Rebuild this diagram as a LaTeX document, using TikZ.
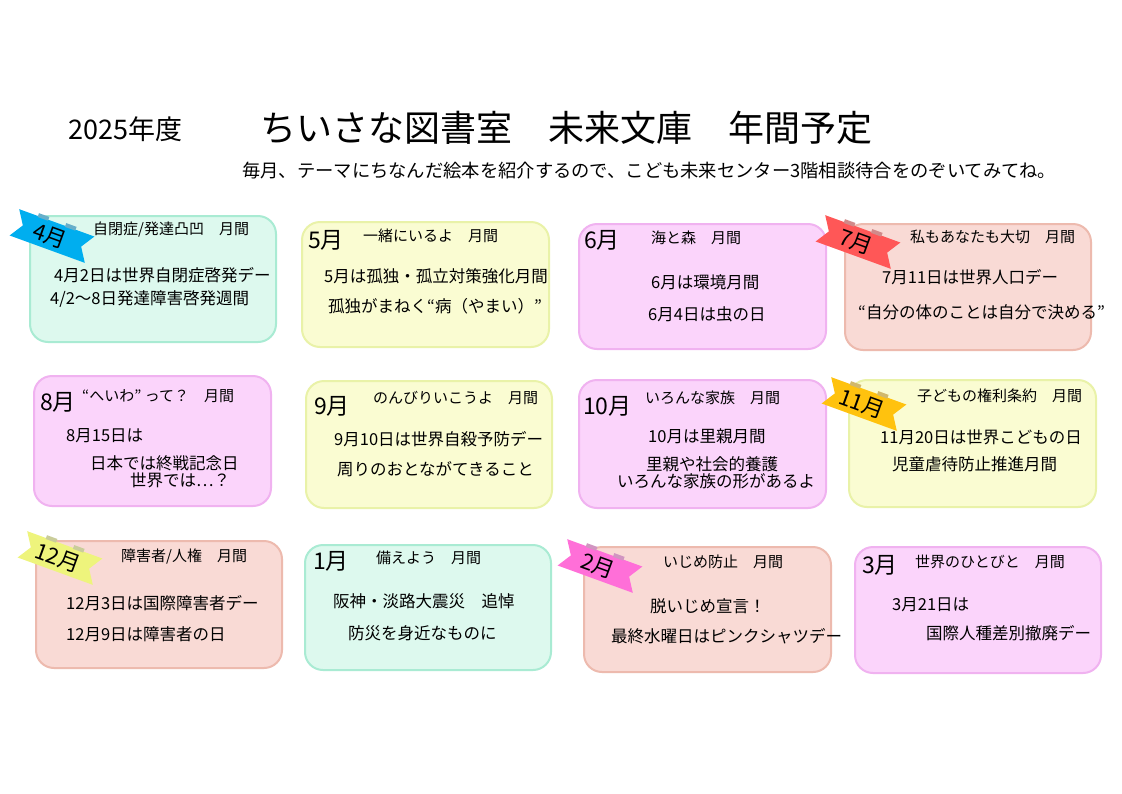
\documentclass[tikz,border=0pt]{standalone}
\usepackage{fontspec}
\setmainfont{Noto Sans CJK JP}
\begin{document}
\begin{tikzpicture}[x=1pt,y=-1pt,
 card/.style={rounded corners=18pt,line width=2pt},
 mint/.style={card,fill=mintf,draw=mintd},
 yel/.style={card,fill=yelf,draw=yeld},
 pnk/.style={card,fill=pnkf,draw=pnkd},
 sal/.style={card,fill=salf,draw=sald},
 tt/.style={anchor=west,font=\fontsize{15}{17}\selectfont,inner sep=0},
 bt/.style={anchor=west,font=\fontsize{16.5}{18}\selectfont,inner sep=0},
 mo/.style={anchor=west,font=\fontsize{23}{25}\selectfont,inner sep=0}]
\definecolor{mintf}{HTML}{DDF9EE}\definecolor{mintd}{HTML}{A9EBD3}
\definecolor{yelf}{HTML}{FAFCD2}\definecolor{yeld}{HTML}{E9F2A8}
\definecolor{pnkf}{HTML}{FBD4FB}\definecolor{pnkd}{HTML}{F0B2F0}
\definecolor{salf}{HTML}{F9DAD5}\definecolor{sald}{HTML}{EDBAAE}
\definecolor{rb1}{HTML}{00AEEF}\definecolor{rb2}{HTML}{FF5757}
\definecolor{rb3}{HTML}{FFC20E}\definecolor{rb4}{HTML}{EEF47C}
\definecolor{rb5}{HTML}{FF6FD8}
\newcommand{\ribbon}[5]{\begin{scope}[shift={(#1,#2)},rotate=-20]
 \fill[#3] (-40,-14)--(40,-14)--(31,0)--(40,14)--(-40,14)--(-31,0)--cycle;
 \fill[#3!70!black!60] (-20,-17) rectangle (-9,-13);
 \fill[#3!70!black!60] (9,-17) rectangle (20,-13);
 \node[font=\fontsize{22}{24}\selectfont,inner sep=0,transform shape] (#5) at (-2,1) {#4};
\end{scope}}
\useasboundingbox (0,0) rectangle (1122,793);
\fill[white] (0,0) rectangle (1122,793);
\node[anchor=west,font=\fontsize{27}{29}\selectfont,inner sep=0] (y) at (68,129) {2025年度};
\node[anchor=west,font=\fontsize{36}{38}\selectfont,inner sep=0] (t) at (260,128) {ちいさな図書室\quad 未来文庫\quad 年間予定};
\node[anchor=west,font=\fontsize{18.3}{20}\selectfont,inner sep=0] (s) at (242,171) {毎月、テーマにちなんだ絵本を紹介するので、こども未来センター3階相談待合をのぞいてみてね。};
% row 1
\draw[mint] (30,216) rectangle (276,342);
\draw[yel] (302,222) rectangle (549,347);
\draw[pnk] (579,224) rectangle (826,349);
\draw[sal] (845,224) rectangle (1091,350);
% row 2
\draw[pnk] (34,376) rectangle (271,506);
\draw[yel] (306,381) rectangle (552,508);
\draw[pnk] (579,380) rectangle (826,508);
\draw[yel] (849,380) rectangle (1096,507);
% row 3
\draw[sal] (36,541) rectangle (282,668);
\draw[mint] (305,545) rectangle (551,670);
\draw[sal] (584,547) rectangle (831,672);
\draw[pnk] (855,547) rectangle (1101,673);
% ribbons
\ribbon{52}{236}{rb1}{4月}{r4}
\ribbon{858}{242}{rb2}{7月}{r7}
\ribbon{864}{404}{rb3}{11月}{r11}
\ribbon{60}{558}{rb4}{12月}{r12}
\ribbon{600}{566}{rb5}{2月}{r2}
% texts 4
\node[tt] at (93,230) {自閉症/発達凸凹\quad 月間};
\node[bt] at (54,275) {4月2日は世界自閉症啓発デー};
\node[bt] at (50,299) {4/2〜8日発達障害啓発週間};
% 5
\node[mo] at (308,240) {5月};
\node[tt] at (363,236) {一緒にいるよ\quad 月間};
\node[bt] at (324,276) {5月は孤独・孤立対策強化月間};
\node[bt] at (328,306) {孤独がまねく“病（やまい）”};
% 6
\node[mo] at (584,240) {6月};
\node[tt] at (651,238) {海と森\quad 月間};
\node[bt] at (651,282) {6月は環境月間};
\node[bt] at (648,314) {6月4日は虫の日};
% 7
\node[tt] at (910,237) {私もあなたも大切\quad 月間};
\node[bt] at (882,277) {7月11日は世界人口デー};
\node[bt] at (858,312) {“自分の体のことは自分で決める”};
% 8
\node[mo] at (40,402) {8月};
\node[tt] at (82,396) {“へいわ” って？\quad 月間};
\node[bt] at (66,436) {8月15日は};
\node[bt] at (90,463) {日本では終戦記念日};
\node[bt] at (130,480) {世界では…？};
% 9
\node[mo] at (314,406) {9月};
\node[tt] at (373,398) {のんびりいこうよ\quad 月間};
\node[bt] at (334,439) {9月10日は世界自殺予防デー};
\node[bt] at (337,469) {周りのおとながてきること};
% 10
\node[mo] at (583,406) {10月};
\node[tt] at (645,398) {いろんな家族\quad 月間};
\node[bt] at (648,436) {10月は里親月間};
\node[bt] at (646,464) {里親や社会的養護};
\node[bt] at (617,481) {いろんな家族の形があるよ};
% 11
\node[tt] at (917,396) {子どもの権利条約\quad 月間};
\node[bt] at (880,437) {11月20日は世界こどもの日};
\node[bt] at (892,464) {児童虐待防止推進月間};
% 12
\node[tt] at (121,556) {障害者/人権\quad 月間};
\node[bt] at (66,603) {12月3日は国際障害者デー};
\node[bt] at (66,634) {12月9日は障害者の日};
% 1
\node[mo] at (313,561) {1月};
\node[tt] at (376,558) {備えよう\quad 月間};
\node[bt] at (333,601) {阪神・淡路大震災\quad 追悼};
\node[bt] at (348,633) {防災を身近なものに};
% 2
\node[tt] at (663,562) {いじめ防止\quad 月間};
\node[bt] at (650,606) {脱いじめ宣言！};
\node[bt] at (611,636) {最終水曜日はピンクシャツデー};
% 3
\node[mo] at (862,565) {3月};
\node[tt] at (915,562) {世界のひとびと\quad 月間};
\node[bt] at (892,605) {3月21日は};
\node[bt] at (926,633) {国際人種差別撤廃デー};
\end{tikzpicture}
\end{document}
